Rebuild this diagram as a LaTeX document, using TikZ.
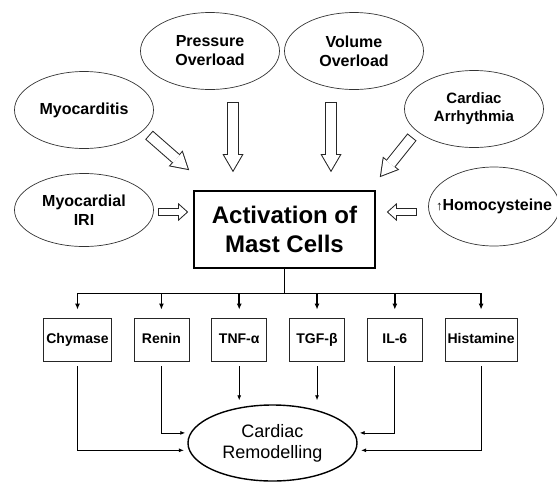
\documentclass[tikz,border=0pt]{standalone}
\usepackage{fontspec}
\setmainfont{Liberation Sans}
\usepackage{tikz}
\usetikzlibrary{shapes.geometric, arrows.meta}
\tikzstyle{cause} = [ellipse, draw=black!80, line width=0.7pt, minimum width=139pt, minimum height=77pt, inner sep=0pt, align=center, font=\bfseries\fontsize{16}{19}\selectfont]
\tikzstyle{product} = [rectangle, draw=black!85, line width=0.8pt, minimum width=55pt, minimum height=43pt, inner sep=2.5pt, text height=10pt, text depth=3pt, font=\bfseries\fontsize{14}{17}\selectfont]
\usetikzlibrary{positioning, calc, chains}

\begin{document}
\begin{tikzpicture}[x=1pt, y=-1pt, node distance=22pt, start chain=going right]
        \tikzstyle{fat} = [white, line width=9.6pt, shorten <=1pt, shorten >=2pt, -{Triangle[length=15pt, width=17.5pt, line width=0pt]}, preaction={draw=black!85, line width=11.6pt, shorten <=0pt, shorten >=0pt, -{Triangle[length=18pt, width=21pt, line width=0pt]}}]
        \tikzstyle{fatsmall} = [white, line width=6.4pt, shorten <=1pt, shorten >=1.5pt, -{Triangle[length=7.5pt, width=13.5pt, line width=0pt]}, preaction={draw=black!85, line width=8.4pt, shorten <=0pt, shorten >=0pt, -{Triangle[length=10pt, width=18pt, line width=0pt]}}]
        \tikzstyle{bus} = [line width=1.6pt]
        \tikzstyle{conn} = [line width=0.8pt, shorten >=5pt, -{Latex[length=5pt, width=4pt]}]
        \useasboundingbox (0,0) rectangle (557,483);

        \node[rectangle, draw, line width=1.6pt, minimum width=181pt, minimum height=77pt, align=center, font=\bfseries\fontsize{24}{29}\selectfont] (act) at (284.5,229.5) {Activation of\\Mast Cells};

        \node[cause] (press) at (210,51) {Pressure\\Overload};
        \node[cause] (vol) at (354,51) {Volume\\Overload};
        \node[cause] (myo) at (84,110) {Myocarditis};
        \node[cause, font=\bfseries\fontsize{15}{18}\selectfont] (arr) at (474,109) {Cardiac\\Arrhythmia};
        \node[cause, minimum height=73pt] (iri) at (84,210) {Myocardial\\IRI};
        \node[cause, minimum width=131pt, minimum height=79pt] (homo) at (494,206.5) {\makebox[0pt]{{\mdseries\fontsize{13}{13}\selectfont ↑}Homocysteine}};

        \node[product, on chain] (chy) at (77.5,339.5) {Chymase};
        \node[product, on chain] (ren) {Renin};
        \node[product, on chain] (tnf) {TNF-α};
        \node[product, on chain] (tgf) {TGF-β};
        \node[product, on chain] (il) {IL-6};
        \node[product, on chain] (hist) {Histamine};

        \node[ellipse, draw, line width=1.4pt, minimum width=169pt, minimum height=76pt, inner sep=0pt, align=center, font=\fontsize{18}{21}\selectfont] (remod) at (272.5,443) {Cardiac\\Remodelling};

        \draw[fat] ([shift={(23pt,-12pt)}]press.south) -- ($(act.north)+(-51.5pt,18pt)$);
        \draw[fat] ([shift={(-23pt,-12pt)}]vol.south) -- ($(act.north)+(46.5pt,18pt)$);
        \draw[fat] ([shift={(65pt,-25pt)}]myo.center) -- ([shift={(-4pt,20pt)}]act.north west);
        \draw[fat] ([shift={(-62pt,-28pt)}]arr.center) -- ([shift={(4pt,13pt)}]act.north east);
        \draw[fatsmall] ([shift={(4pt,-2pt)}]iri.east) -- ([shift={(-5pt,17.5pt)}]act.west);
        \draw[fatsmall] ([shift={(-11.5pt,-5.5pt)}]homo.west) -- ([shift={(11pt,17.5pt)}]act.east);

        \coordinate (bus) at ([yshift=-24.5pt]act.south);
        \draw[bus] (act.south) -- (bus);
        \draw[bus] (chy.north |- bus) -- (hist.north |- bus);
        \foreach \b in {chy, ren, tnf, tgf, il, hist}
            \draw[bus, shorten >=8pt, -{Latex[length=6pt, width=5pt]}] (\b.north |- bus) -- (\b.north);

        \draw[conn] ([yshift=-5pt]chy.south) |- (remod.185);
        \draw[conn] ([yshift=-5pt]ren.south) |- (remod.173);
        \draw[conn, shorten >=0pt] ([yshift=-5pt]tnf.south) -- ($(tnf.south |- remod.north)+(0pt,4pt)$);
        \draw[conn, shorten >=0pt] ([yshift=-5pt]tgf.south) -- ($(tgf.south |- remod.north)+(0pt,4pt)$);
        \draw[conn] ([yshift=-5pt]il.south) |- (remod.7);
        \draw[conn] ([yshift=-5pt]hist.south) |- (remod.355);

    \end{tikzpicture}
\end{document}
